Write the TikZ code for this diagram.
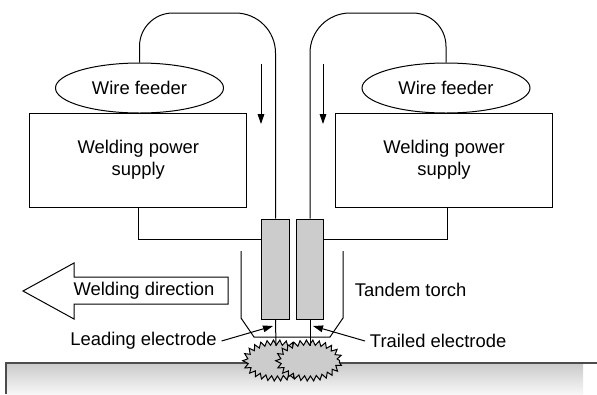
\documentclass[tikz,border=0pt]{standalone}
\usepackage{fontspec}
\setmainfont{Liberation Sans}
\usetikzlibrary{arrows.meta,shapes.geometric,decorations.pathmorphing}
\tikzset{
lbl/.style={font=\fontsize{13.8}{16.5}\selectfont,align=center},
supply/.style={lbl,draw,minimum width=163pt,minimum height=70.5pt},
feeder/.style={lbl,draw,ellipse,inner sep=0pt,minimum width=126pt,minimum height=37.5pt},
torch/.style={draw,fill=gray!40,minimum width=20.6pt,minimum height=75pt},
weld/.style={draw,ellipse,fill=gray!40,inner sep=0pt,minimum width=46pt,minimum height=27pt,decorate,decoration={zigzag,amplitude=1.9pt,segment length=4.6pt}}
}
\begin{document}
\begin{tikzpicture}[x=.75pt,y=-.75pt,line width=.75pt,>={Triangle[length=7.5pt,width=5pt]}]
\useasboundingbox (0,0) rectangle (597,394);
\shade[top color=gray!42,bottom color=gray!6] (6,363) rectangle (583,394);
\draw[black!70,thick] (6,394)--(6,363)--(597,363);
\node[supply] (boxL) at (138.25,160) {Welding power\\supply};
\node[supply] (boxR) at (444,160) {Welding power\\supply};
\node[feeder] (feedL) at (139.5,88) {Wire feeder};
\node[feeder] (feedR) at (446,88) {Wire feeder};
\node[torch] (torchL) at (275.5,269) {};
\node[torch] (torchR) at (310,269) {};
\node[weld] (weldL) at (276,360.5) {};
\node[weld] (weldR) at (309,360.5) {};
\coordinate (topL) at (139.5,13);
\coordinate (topR) at (446,13);
\coordinate (joinL) at (138,239);
\coordinate (joinR) at (447,239);
\coordinate (tipL) at (273,326);
\coordinate (tipR) at (313,326);
% wires
\draw (feedL.north) [rounded corners=25pt] -- (topL) [rounded corners=30pt] -- (topL -| torchL.north) -- (torchL.north);
\draw (feedR.north) [rounded corners=25pt] -- (topR) [rounded corners=30pt] -- (topR -| torchR.north) -- (torchR.north);
\draw (joinL |- boxL.south) -- (joinL) -- (joinL -| torchL.west);
\draw (joinR |- boxR.south) -- (joinR) -- (joinR -| torchR.east);
\draw (torchL.south) -- (276,346);
\draw (torchR.south) -- (310,346);
% feed arrows
\coordinate (feedarrowL) at (261,64);
\coordinate (feedarrowR) at (323,64);
\draw[->] (feedarrowL) -- ++(0,60);
\draw[->] (feedarrowR) -- ++(0,60);
% shroud
\draw (241,251)--(241,318)--(254,337)--(330,337)--(343,318)--(343,251);
% direction
\draw (228,277)--(74,277)--(74,263)--(23,291)--(74,319)--(74,304)--(228,304)--cycle;
\node[lbl] (dirlabel) at (144,291) {Welding direction};
\node[lbl,anchor=west] (torchlabel) at (350,290) {Tandem torch};
\node[lbl] (leadlabel) at (143.5,341) {Leading electrode};
\node[lbl,anchor=west] (traillabel) at (365,341) {Trailed electrode};
\draw[->] (leadlabel.east) -- (tipL);
\draw[->] (traillabel.west) -- (tipR);
\end{tikzpicture}
\end{document}
